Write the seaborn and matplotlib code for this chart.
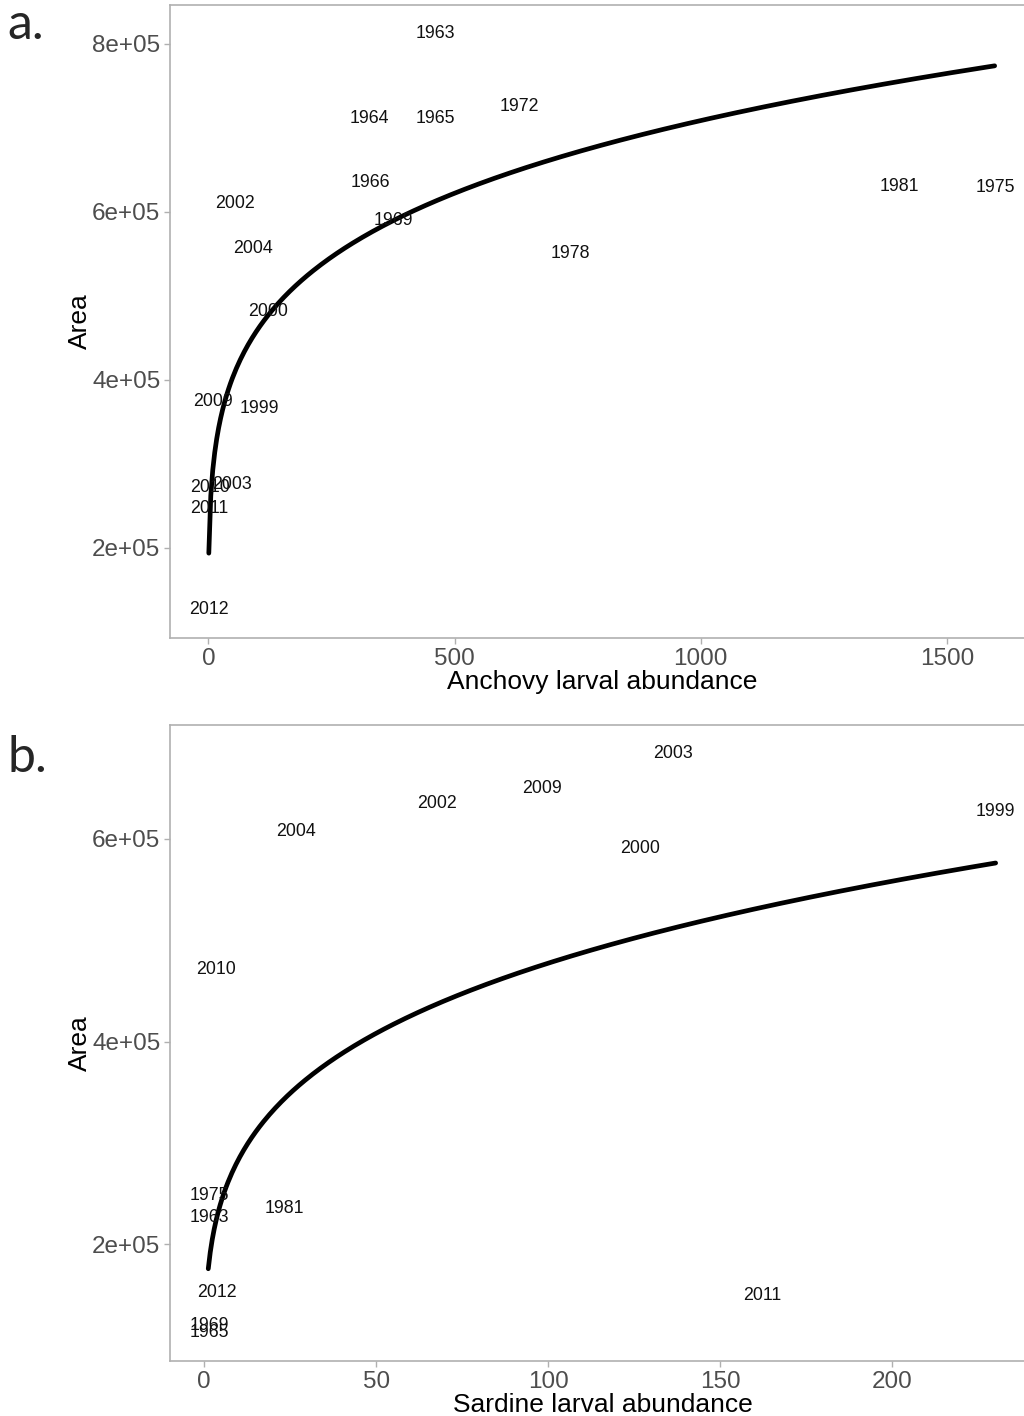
import numpy as np
import pandas as pd
import matplotlib.pyplot as plt
import seaborn as sns

# panel a: anchovy
anch_years = ['1963', '1964', '1965', '1972', '1966', '2002', '1969', '2004', '1978',
              '1981', '1975', '2000', '2009', '1999', '2010', '2003', '2011', '2012']
anch_x = [461, 327, 461, 631, 329, 55, 375, 91, 735, 1404, 1599, 122, 10, 104, 4, 49, 2, 2]
anch_y = [811700, 711000, 711000, 725200, 635100, 609000, 588900, 555700, 549700,
          630300, 629100, 481000, 374300, 366000, 271100, 274700, 246200, 126500]

# panel b: sardine
sard_years = ['2003', '2009', '2002', '2004', '1999', '2000', '2010', '1975', '1963',
              '1981', '2012', '2011', '1969', '1965']
sard_x = [136.2, 98.1, 67.8, 26.8, 230, 126.6, 3.5, 1.5, 1.5, 23.3, 3.8, 162.2, 1.5, 1.5]
sard_y = [683950, 649400, 634600, 606900, 626700, 590100, 471600, 248400, 226700,
          235600, 152600, 149600, 120000, 113100]

# fitted power curves Area = a * x^b, drawn from x0 to x1
anch_fit = (193300, 0.188, 1.0, 1597)
sard_fit = (168600, 0.226, 1.2, 230)

sns.set_style("white")
plt.rcParams['font.family'] = ['Liberation Sans', 'DejaVu Sans']

fig = plt.figure(figsize=(10.24, 14.16), dpi=100)
ax_a = fig.add_axes([0.166, 0.5494, 0.8447, 0.4471])
ax_b = fig.add_axes([0.166, 0.0388, 0.8447, 0.4492])


def panel(ax, years, xs, ys, fit, xlabel, xticks, yticks):
    a, b, x0, x1 = fit
    cx = np.linspace(x0, x1, 400)
    curve = pd.DataFrame({'x': cx, 'y': a * cx ** b})
    sns.lineplot(data=curve, x='x', y='y', ax=ax, color='black', linewidth=3.4)
    for yr, x, y in zip(years, xs, ys):
        ax.text(x, y, yr, ha='center', va='center', fontsize=12.8, color='#111111')
    xr = max(xs) - min(xs)
    yr_ = max(ys) - min(ys)
    ax.set_xlim(min(xs) - 0.05 * xr, max(xs) + 0.05 * xr)
    ax.set_ylim(min(ys) - 0.05 * yr_, max(ys) + 0.05 * yr_)
    ax.set_xticks(xticks)
    ax.set_yticks(yticks)
    ax.set_yticklabels([f'{int(t / 1e5)}e+05' for t in yticks])
    ax.tick_params(axis='both', colors='#b0b0b0', labelcolor='#4d4d4d',
                   labelsize=17.5, length=4, width=1, direction='out',
                   left=True, bottom=True, pad=3)
    for s in ax.spines.values():
        s.set_color('#b0b0b0')
        s.set_linewidth(1.2)
    ax.set_xlabel(xlabel, fontsize=19, color='black', labelpad=0)
    ax.set_ylabel('Area', fontsize=19, color='black', labelpad=0)


panel(ax_a, anch_years, anch_x, anch_y, anch_fit, 'Anchovy larval abundance',
      [0, 500, 1000, 1500], [200000, 400000, 600000, 800000])
panel(ax_b, sard_years, sard_x, sard_y, sard_fit, 'Sardine larval abundance',
      [0, 50, 100, 150, 200], [200000, 400000, 600000])

fig.text(0.007, 0.982, 'a.', fontsize=36, family='Lato', va='center', ha='left')
fig.text(0.007, 0.465, 'b.', fontsize=36, family='Lato', va='center', ha='left')

fig.savefig('out.png', dpi=100)
